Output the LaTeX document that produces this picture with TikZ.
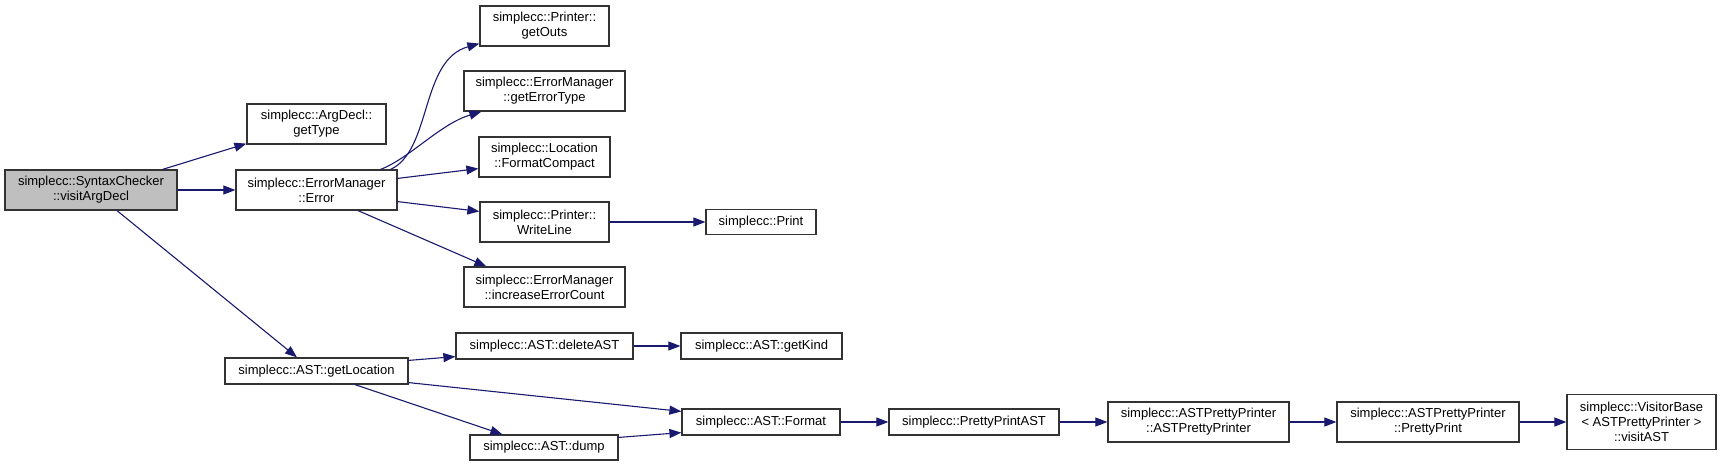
\documentclass[tikz,border=0pt]{standalone}
\usepackage{fontspec}
\setmainfont{Liberation Sans}
\usetikzlibrary{arrows.meta}
\definecolor{edgeblue}{HTML}{191970}
\definecolor{focusgray}{HTML}{BFBFBF}
\definecolor{boxline}{HTML}{333333}
\tikzset{
  fn/.style={draw=boxline, line width=1.2pt, fill=white, align=center, inner sep=0pt,
    font=\fontsize{13}{15}\selectfont},
  call/.style={draw=edgeblue, line width=1.1pt, -{Triangle[length=12pt,width=9pt]}, edgeblue}
}
\begin{document}
\begin{tikzpicture}[x=1pt,y=-1pt]
\useasboundingbox (0,0) rectangle (1721,466);
% nodes
\node[fn, fill=focusgray, minimum width=172, minimum height=40] (va) at (91,190) {simplecc::SyntaxChecker\\::visitArgDecl};
\node[fn, minimum width=139, minimum height=40] (gt) at (316.5,124) {simplecc::ArgDecl::\\getType};
\node[fn, minimum width=161, minimum height=40] (err) at (316.5,190) {simplecc::ErrorManager\\::Error};
\node[fn, minimum width=129, minimum height=40] (go) at (544.5,26) {simplecc::Printer::\\getOuts};
\node[fn, minimum width=161, minimum height=40] (get) at (544.5,91) {simplecc::ErrorManager\\::getErrorType};
\node[fn, minimum width=131, minimum height=40] (fc) at (544.5,157) {simplecc::Location\\::FormatCompact};
\node[fn, minimum width=129, minimum height=40] (wl) at (544.5,222) {simplecc::Printer::\\WriteLine};
\node[fn, minimum width=161, minimum height=40] (iec) at (544.5,287) {simplecc::ErrorManager\\::increaseErrorCount};
\node[fn, minimum width=110, minimum height=25] (pr) at (761,222) {simplecc::Print};
\node[fn, minimum width=183, minimum height=26] (gl) at (316.5,371) {simplecc::AST::getLocation};
\node[fn, minimum width=177, minimum height=26] (del) at (544.5,346) {simplecc::AST::deleteAST};
\node[fn, minimum width=148, minimum height=25] (dump) at (544,447.5) {simplecc::AST::dump};
\node[fn, minimum width=161, minimum height=26] (gk) at (761.5,346) {simplecc::AST::getKind};
\node[fn, minimum width=158, minimum height=26] (fmt) at (761,422) {simplecc::AST::Format};
\node[fn, minimum width=170, minimum height=26] (ppa) at (974,422) {simplecc::PrettyPrintAST};
\node[fn, minimum width=181, minimum height=40] (app) at (1198.5,422) {simplecc::ASTPrettyPrinter\\::ASTPrettyPrinter};
\node[fn, minimum width=182, minimum height=40] (pp) at (1428,422) {simplecc::ASTPrettyPrinter\\::PrettyPrint};
\node[fn, minimum width=149, minimum height=55] (vb) at (1641.5,422) {simplecc::VisitorBase\\< ASTPrettyPrinter >\\::visitAST};
% edges
\draw[call] ([xshift=-15pt]va.north east) -- ([yshift=1pt]gt.south west);
\draw[call] (va.east) -- (err.west);
\draw[call] ([xshift=26pt]va.south) -- ([xshift=-19.5pt]gl.north);
\draw[call] ([xshift=-7pt]err.north east) .. controls (432,150) and (420,60) .. ([yshift=3pt]go.south west);
\draw[call] ([xshift=-17pt]err.north east) .. controls (410,158) and (440,124) .. ([xshift=18pt]get.south west);
\draw[call] ([yshift=-9pt]err.north east) -- ([yshift=9pt]fc.south west);
\draw[call] ([yshift=9pt]err.south east) -- ([yshift=-10pt]wl.north west);
\draw[call] ([xshift=41.5pt]err.south) -- ([xshift=23pt]iec.north west);
\draw[call] (wl.east) -- (pr.west);
\draw[call] ([yshift=-3pt]gl.north east) -- ([yshift=3pt]del.south west);
\draw[call] ([yshift=2pt]gl.south east) -- ([yshift=-3pt]fmt.north west);
\draw[call] ([xshift=38.5pt]gl.south) -- ([xshift=33pt]dump.north west);
\draw[call] ([yshift=-3pt]dump.north east) -- ([yshift=3pt]fmt.south west);
\draw[call] (del.east) -- (gk.west);
\draw[call] (fmt.east) -- (ppa.west);
\draw[call] (ppa.east) -- (app.west);
\draw[call] (app.east) -- (pp.west);
\draw[call] (pp.east) -- (vb.west);
\end{tikzpicture}
\end{document}
